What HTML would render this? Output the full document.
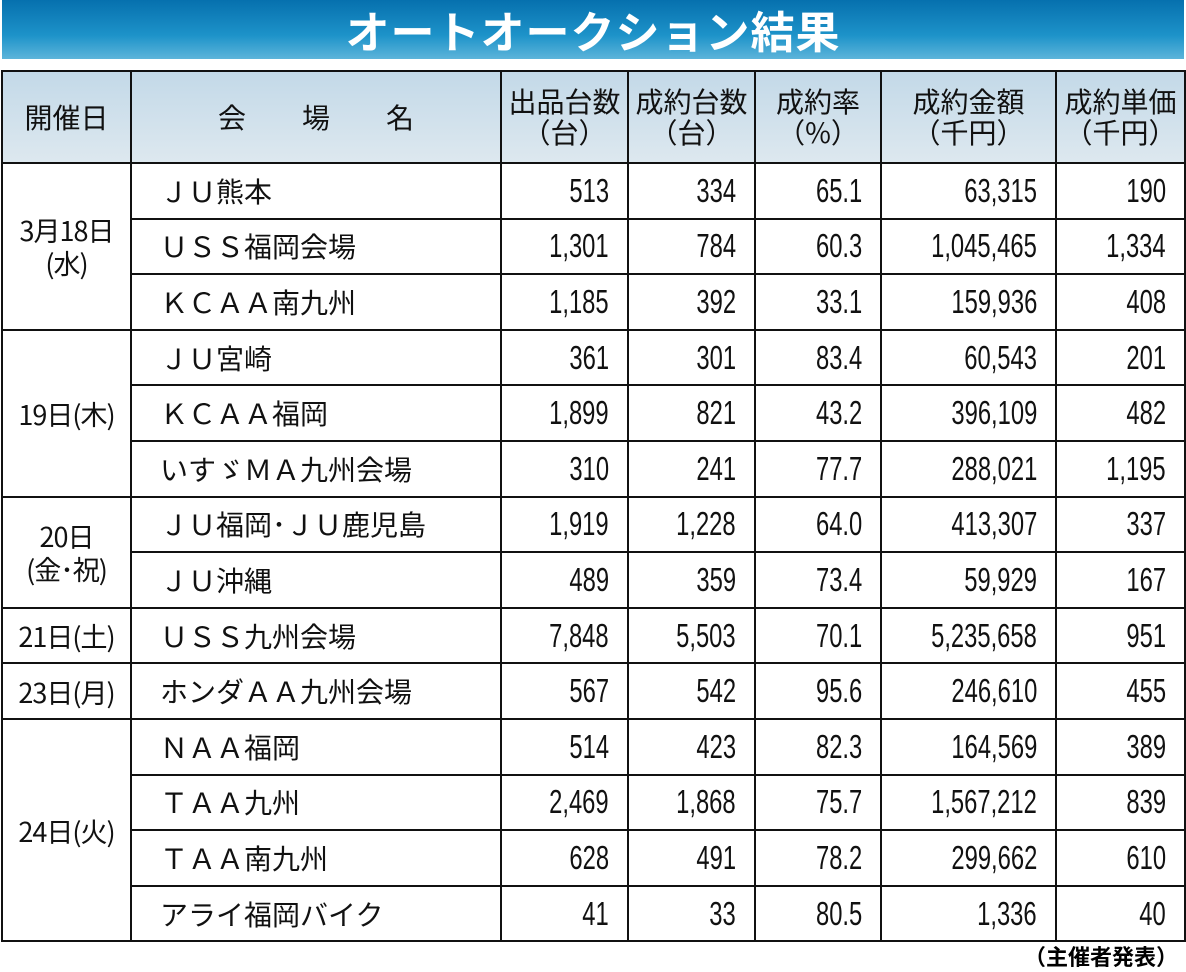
<!DOCTYPE html>
<html><head><meta charset="utf-8"><style>
body{margin:0;width:1186px;height:969px;background:#fff;position:relative;overflow:hidden;font-family:"Liberation Sans","Noto Sans CJK JP",sans-serif;}
.title{position:absolute;left:2px;top:0;width:1182px;height:59px;background:linear-gradient(#0670ae,#1d93c9 60%,#5db4da);color:#fff;font-weight:bold;font-size:44px;text-align:center;line-height:59px;letter-spacing:1px;font-family:"Noto Sans CJK JP",sans-serif;}
table{position:absolute;left:1px;top:70px;border-collapse:collapse;table-layout:fixed;}
td{border:2px solid #111;padding:0;height:53.6px;font-size:28px;color:#111;font-family:"Noto Sans CJK JP",sans-serif;white-space:nowrap;}
tr.h td{height:90px;background:linear-gradient(#c3d9e8,#dde8ef);text-align:center;line-height:31px;font-size:28px;}
td.n{text-align:right;padding-right:18px;font-family:"Liberation Sans",sans-serif;font-size:33px;}
td.n span{display:inline-block;transform:scaleX(0.72);transform-origin:right center;}
td.v{padding-left:28px;}
td.d{text-align:center;line-height:33px;font-size:27px;letter-spacing:-1px;}
.foot{position:absolute;right:8px;top:940px;font-size:22px;font-weight:bold;font-family:"Noto Sans CJK JP",sans-serif;}
</style></head><body>
<div class="title">オートオークション結果</div>
<table>
<colgroup><col style="width:129px"><col style="width:370px"><col style="width:127px"><col style="width:127px"><col style="width:126px"><col style="width:175px"><col style="width:129px"></colgroup>
<tr class="h"><td>開催日</td><td>会　　場　　名</td><td>出品台数<br>（台）</td><td>成約台数<br>（台）</td><td>成約率<br>（%）</td><td>成約金額<br>（千円）</td><td>成約単価<br>（千円）</td></tr>
<tr><td class="d" rowspan="3">3月18日<br>(水)</td><td class="v">ＪＵ熊本</td><td class="n"><span>513</span></td><td class="n"><span>334</span></td><td class="n"><span>65.1</span></td><td class="n"><span>63,315</span></td><td class="n"><span>190</span></td></tr>
<tr><td class="v">ＵＳＳ福岡会場</td><td class="n"><span>1,301</span></td><td class="n"><span>784</span></td><td class="n"><span>60.3</span></td><td class="n"><span>1,045,465</span></td><td class="n"><span>1,334</span></td></tr>
<tr><td class="v">ＫＣＡＡ南九州</td><td class="n"><span>1,185</span></td><td class="n"><span>392</span></td><td class="n"><span>33.1</span></td><td class="n"><span>159,936</span></td><td class="n"><span>408</span></td></tr>
<tr><td class="d" rowspan="3">19日(木)</td><td class="v">ＪＵ宮崎</td><td class="n"><span>361</span></td><td class="n"><span>301</span></td><td class="n"><span>83.4</span></td><td class="n"><span>60,543</span></td><td class="n"><span>201</span></td></tr>
<tr><td class="v">ＫＣＡＡ福岡</td><td class="n"><span>1,899</span></td><td class="n"><span>821</span></td><td class="n"><span>43.2</span></td><td class="n"><span>396,109</span></td><td class="n"><span>482</span></td></tr>
<tr><td class="v">いすゞＭＡ九州会場</td><td class="n"><span>310</span></td><td class="n"><span>241</span></td><td class="n"><span>77.7</span></td><td class="n"><span>288,021</span></td><td class="n"><span>1,195</span></td></tr>
<tr><td class="d" rowspan="2">20日<br>(金･祝)</td><td class="v">ＪＵ福岡･ＪＵ鹿児島</td><td class="n"><span>1,919</span></td><td class="n"><span>1,228</span></td><td class="n"><span>64.0</span></td><td class="n"><span>413,307</span></td><td class="n"><span>337</span></td></tr>
<tr><td class="v">ＪＵ沖縄</td><td class="n"><span>489</span></td><td class="n"><span>359</span></td><td class="n"><span>73.4</span></td><td class="n"><span>59,929</span></td><td class="n"><span>167</span></td></tr>
<tr><td class="d">21日(土)</td><td class="v">ＵＳＳ九州会場</td><td class="n"><span>7,848</span></td><td class="n"><span>5,503</span></td><td class="n"><span>70.1</span></td><td class="n"><span>5,235,658</span></td><td class="n"><span>951</span></td></tr>
<tr><td class="d">23日(月)</td><td class="v">ホンダＡＡ九州会場</td><td class="n"><span>567</span></td><td class="n"><span>542</span></td><td class="n"><span>95.6</span></td><td class="n"><span>246,610</span></td><td class="n"><span>455</span></td></tr>
<tr><td class="d" rowspan="4">24日(火)</td><td class="v">ＮＡＡ福岡</td><td class="n"><span>514</span></td><td class="n"><span>423</span></td><td class="n"><span>82.3</span></td><td class="n"><span>164,569</span></td><td class="n"><span>389</span></td></tr>
<tr><td class="v">ＴＡＡ九州</td><td class="n"><span>2,469</span></td><td class="n"><span>1,868</span></td><td class="n"><span>75.7</span></td><td class="n"><span>1,567,212</span></td><td class="n"><span>839</span></td></tr>
<tr><td class="v">ＴＡＡ南九州</td><td class="n"><span>628</span></td><td class="n"><span>491</span></td><td class="n"><span>78.2</span></td><td class="n"><span>299,662</span></td><td class="n"><span>610</span></td></tr>
<tr><td class="v">アライ福岡バイク</td><td class="n"><span>41</span></td><td class="n"><span>33</span></td><td class="n"><span>80.5</span></td><td class="n"><span>1,336</span></td><td class="n"><span>40</span></td></tr>
</table>
<div class="foot">（主催者発表）</div>
</body></html>
